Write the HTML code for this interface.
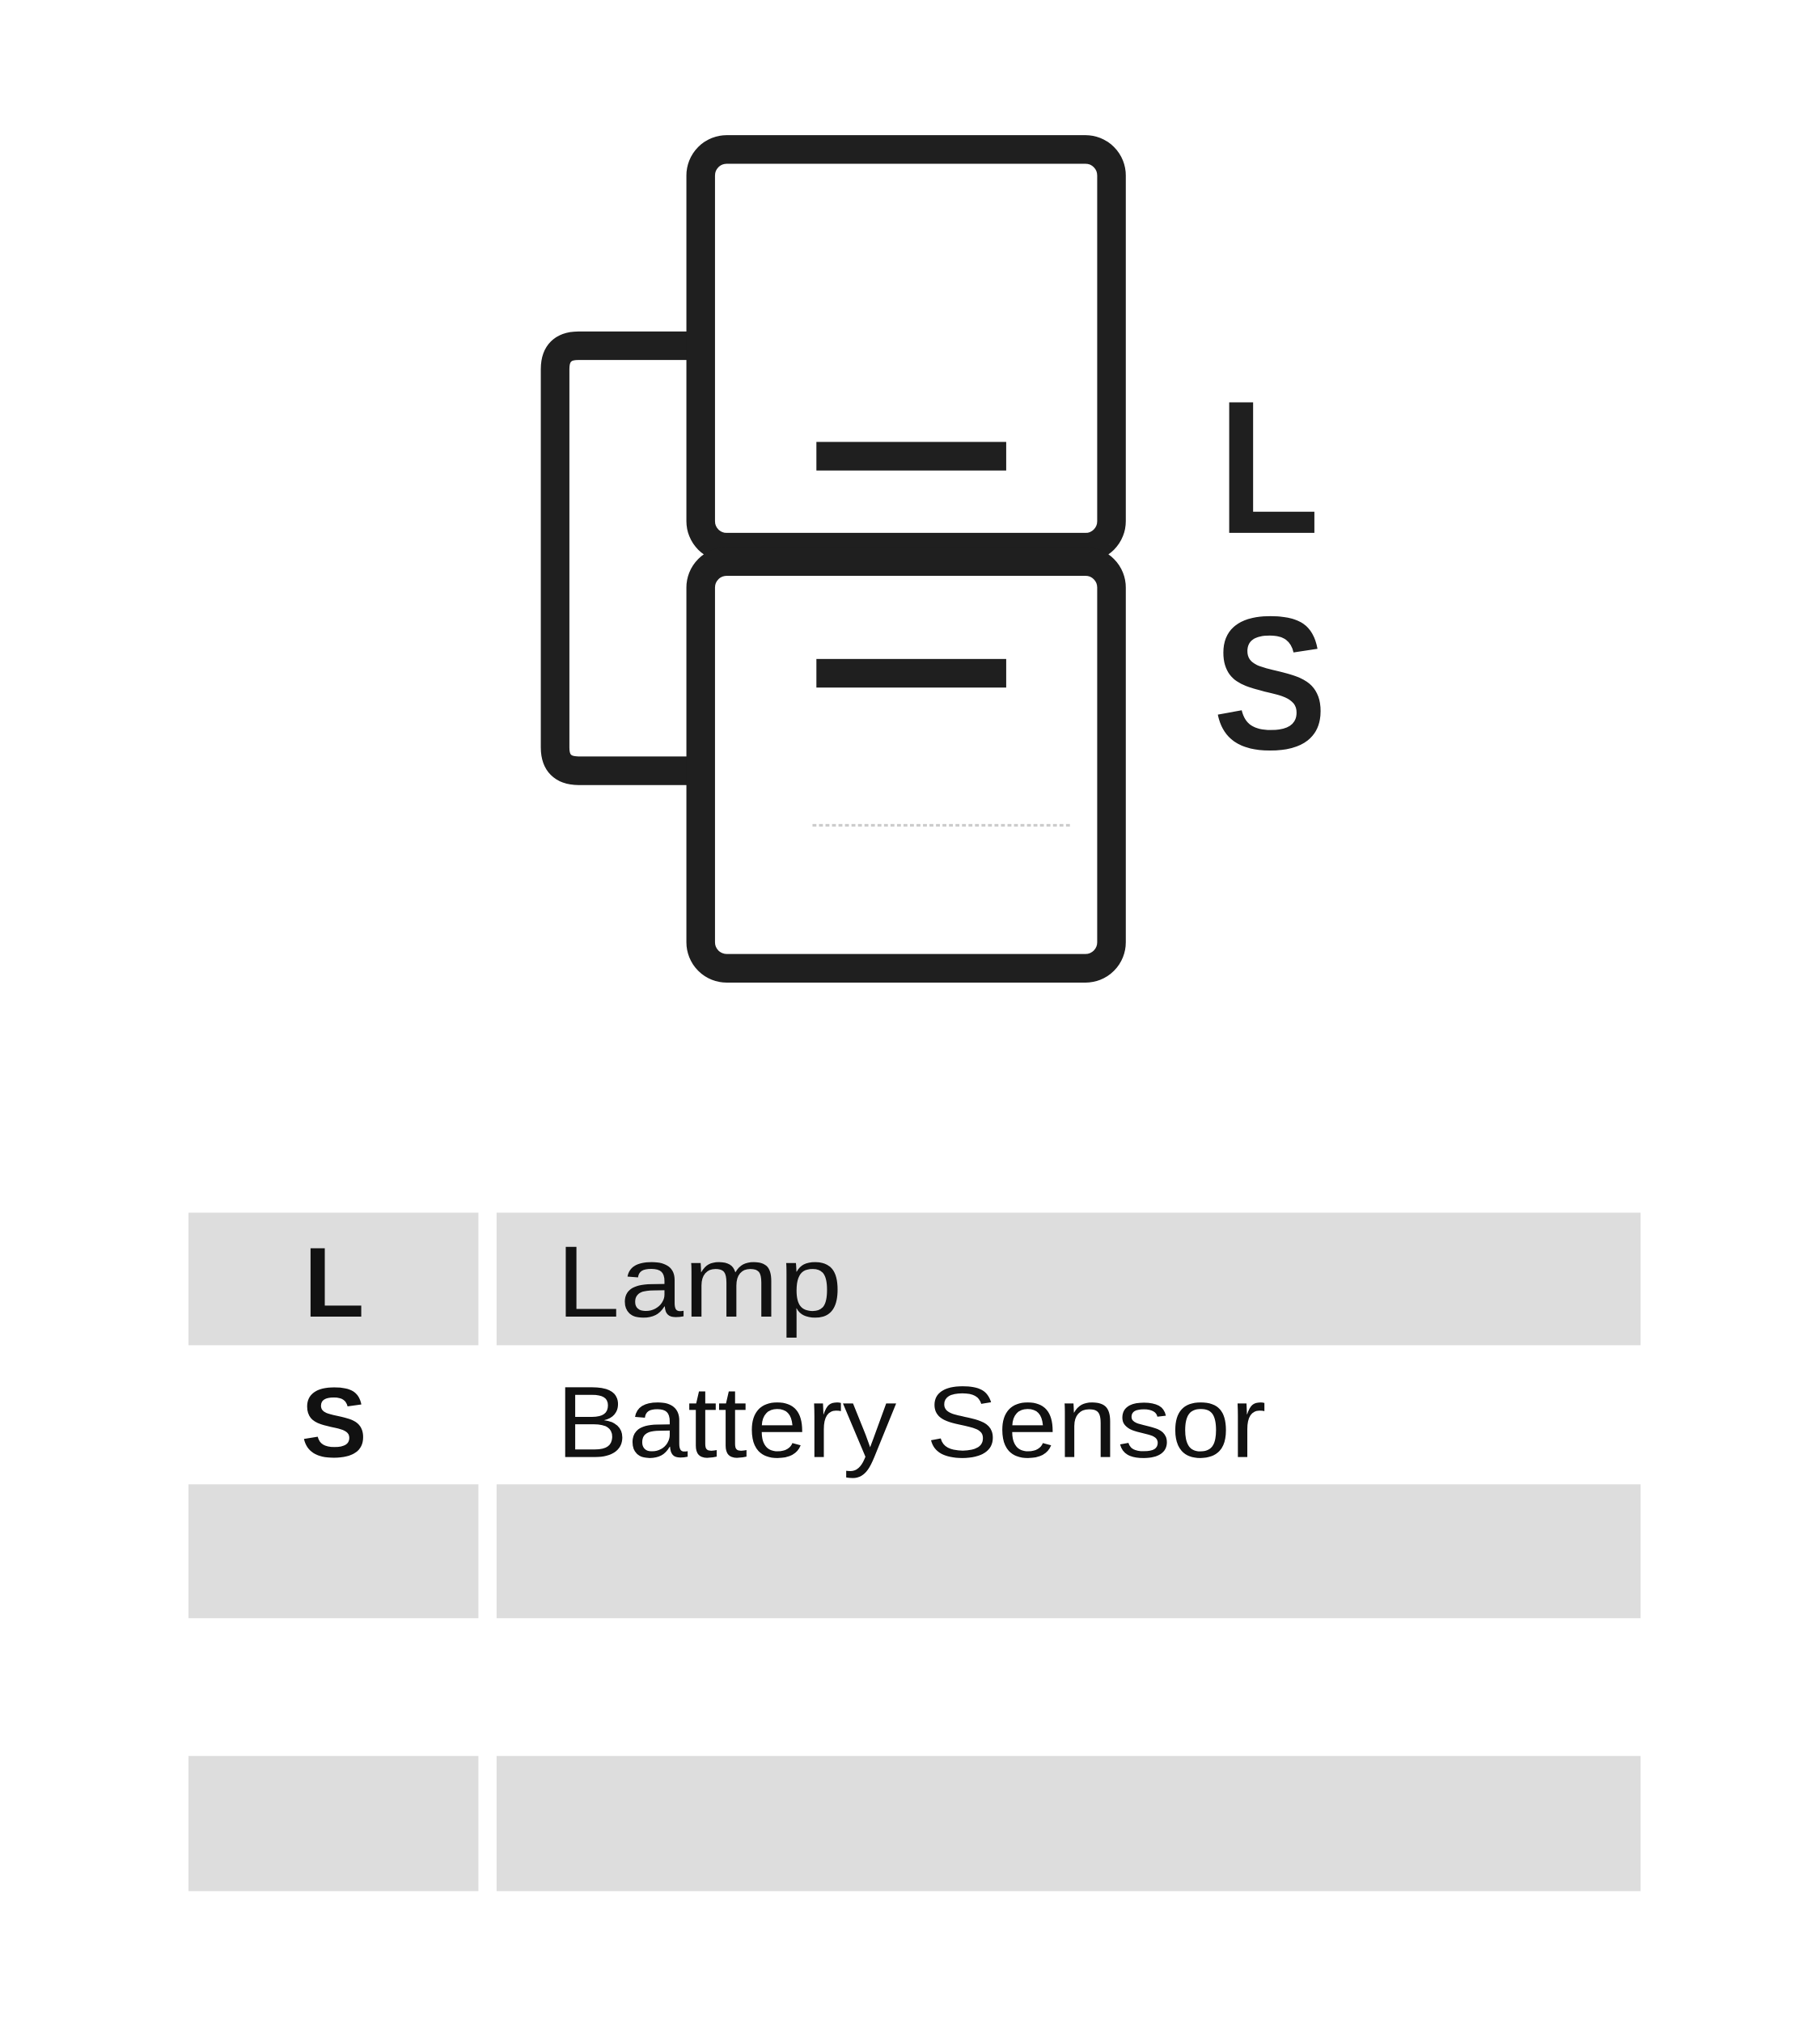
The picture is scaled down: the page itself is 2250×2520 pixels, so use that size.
<!DOCTYPE html>
<html><head><meta charset="utf-8"><style>
html,body{margin:0;padding:0;background:#fff;}
svg{display:block;}
</style></head><body>
<svg width="2250" height="2520" viewBox="0 0 1400 1568" preserveAspectRatio="none" xmlns="http://www.w3.org/2000/svg">
<rect width="1400" height="1568" fill="#fff"/>
<g fill="none" stroke="#1f1f1f" stroke-width="22" stroke-linejoin="round">
<path d="M540 266 L445 266 Q427 266 427 284 L427 575 Q427 593 445 593 L540 593"/>
<rect x="539" y="115" width="316" height="306" rx="20"/>
<rect x="539" y="432" width="316" height="313" rx="20"/>
</g>
<rect x="628" y="340" width="146" height="22" fill="#1f1f1f"/>
<rect x="628" y="507" width="146" height="22" fill="#1f1f1f"/>
<line x1="625" y1="635" x2="825" y2="635" stroke="#ccc" stroke-width="2" stroke-dasharray="3 2"/>
<text x="937" y="410" font-family="Liberation Sans, sans-serif" font-weight="bold" font-size="146" fill="#1f1f1f" textLength="78" lengthAdjust="spacingAndGlyphs">L</text>
<text x="933" y="576" font-family="Liberation Sans, sans-serif" font-weight="bold" font-size="146" fill="#1f1f1f" textLength="88" lengthAdjust="spacingAndGlyphs">S</text>
<g fill="#dddddd">
<rect x="145" y="933" width="223" height="102"/>
<rect x="382" y="933" width="880" height="102"/>
<rect x="145" y="1142" width="223" height="103"/>
<rect x="382" y="1142" width="880" height="103"/>
<rect x="145" y="1351" width="223" height="104"/>
<rect x="382" y="1351" width="880" height="104"/>
</g>
<g font-family="Liberation Sans, sans-serif" fill="#111">
<text x="257" y="1013" font-weight="bold" font-size="76" text-anchor="middle">L</text>
<text x="257" y="1121" font-weight="bold" font-size="76" text-anchor="middle">S</text>
<text x="428" y="1013" font-size="78" textLength="220" lengthAdjust="spacingAndGlyphs">Lamp</text>
<text x="428" y="1121" font-size="78" textLength="546" lengthAdjust="spacingAndGlyphs">Battery Sensor</text>
</g>
</svg>
</body></html>
